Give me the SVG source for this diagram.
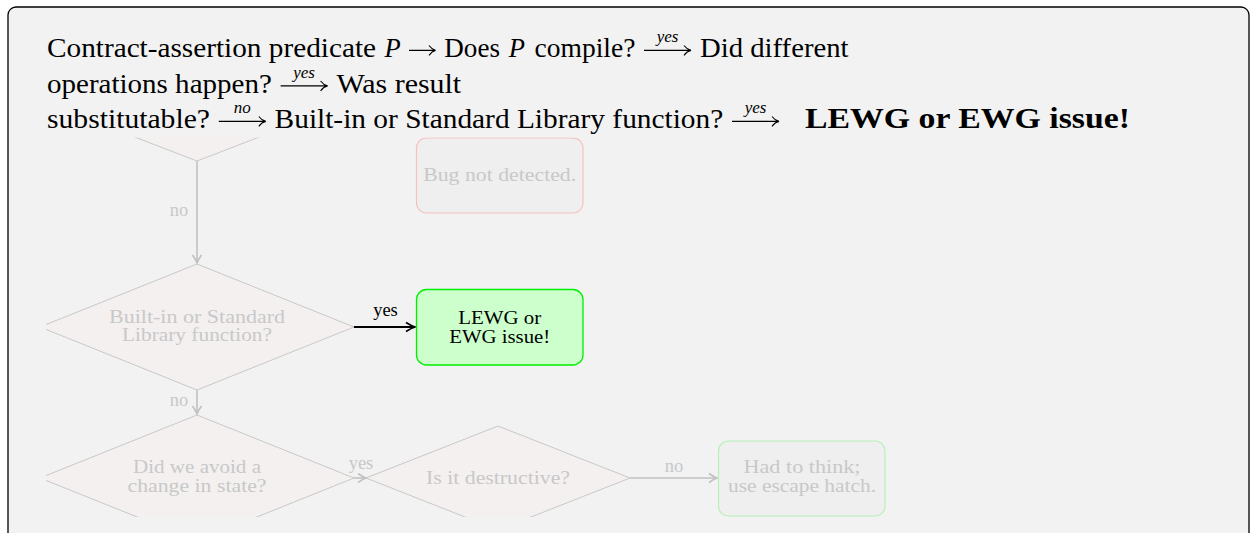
<svg xmlns="http://www.w3.org/2000/svg" width="1250" height="533" viewBox="0 0 1250 533">
<style>
  .t { font-family: "Liberation Serif", "Times New Roman", serif; fill: #000; }
  .m { font-family: "Liberation Serif", "Times New Roman", serif; font-style: italic; fill: #000; }
  .lbl { font-family: "Liberation Serif", serif; font-style: italic; font-size: 17px; fill: #000; text-anchor: middle; }
  .g { font-family: "Liberation Serif", "Times New Roman", serif; font-size: 18.5px; fill: #c8c8c8; text-anchor: middle; }
  .dia { fill: #f4f0f0; stroke: #c8c8c8; stroke-width: 1; }
  .conn { stroke: #c0c0c0; stroke-width: 1.6; fill: none; }
  .xa { stroke: #000; stroke-width: 1.1; fill: none; }
</style>
<defs>
  <marker id="ag" markerUnits="userSpaceOnUse" markerWidth="14" markerHeight="14" refX="12" refY="7" orient="auto">
    <path d="M4,2.5 Q9,6 12,7 Q9,8 4,11.5" fill="none" stroke="#c0c0c0" stroke-width="1.6"/>
  </marker>
  <marker id="ab" markerUnits="userSpaceOnUse" markerWidth="14" markerHeight="14" refX="12" refY="7" orient="auto">
    <path d="M3,2.5 Q8.5,6 12,7 Q8.5,8 3,11.5" fill="none" stroke="#000" stroke-width="1.8"/>
  </marker>
  <clipPath id="clip">
    <rect x="46" y="137.5" width="1000" height="379.5"/>
  </clipPath>
</defs>

<rect x="8" y="7" width="1241" height="620" rx="8" fill="#f2f2f2" stroke="#000" stroke-width="1.3"/>

<g id="header">
  <text class="t" font-size="26.5" x="47" y="57" textLength="329" lengthAdjust="spacingAndGlyphs">Contract-assertion predicate</text>
  <text class="m" font-size="26.5" x="384.6" y="57">P</text>
  <path class="xa" d="M409,50.4 H434.5 M429,45.5 Q432,49.5 435.5,50.4 Q432,51.3 429,55.3"/>
  <text class="t" font-size="26.5" x="444.3" y="57" textLength="55.7" lengthAdjust="spacingAndGlyphs">Does</text>
  <text class="m" font-size="26.5" x="508.8" y="57">P</text>
  <text class="t" font-size="26.5" x="534.6" y="57" textLength="100.8" lengthAdjust="spacingAndGlyphs">compile?</text>
  <path class="xa" d="M644,50.4 H690 M684,45.5 Q687,49.5 691,50.4 Q687,51.3 684,55.3"/>
  <text class="lbl" x="667.5" y="42">yes</text>
  <text class="t" font-size="26.5" x="700" y="57" textLength="148.5" lengthAdjust="spacingAndGlyphs">Did different</text>

  <text class="t" font-size="26.5" x="47" y="92.5" textLength="224.8" lengthAdjust="spacingAndGlyphs">operations happen?</text>
  <path class="xa" d="M280.6,85.9 H326.6 M320.6,81 Q323.6,85 327.6,85.9 Q323.6,86.8 320.6,90.8"/>
  <text class="lbl" x="304" y="77.5">yes</text>
  <text class="t" font-size="26.5" x="336.4" y="92.5" textLength="124.8" lengthAdjust="spacingAndGlyphs">Was result</text>

  <text class="t" font-size="26.5" x="47" y="128" textLength="163" lengthAdjust="spacingAndGlyphs">substitutable?</text>
  <path class="xa" d="M218.8,121.4 H264.8 M258.8,116.5 Q261.8,120.5 265.8,121.4 Q261.8,122.3 258.8,126.3"/>
  <text class="lbl" x="242.3" y="113">no</text>
  <text class="t" font-size="26.5" x="274.6" y="128" textLength="448.7" lengthAdjust="spacingAndGlyphs">Built-in or Standard Library function?</text>
  <path class="xa" d="M732,121.4 H778 M772,116.5 Q775,120.5 779,121.4 Q775,122.3 772,126.3"/>
  <text class="lbl" x="755.5" y="113">yes</text>
  <text class="t" font-size="30" font-weight="bold" x="805" y="128" textLength="325" lengthAdjust="spacingAndGlyphs">LEWG or EWG issue!</text>
</g>

<g clip-path="url(#clip)">
  <g id="connectors">
    <line class="conn" x1="197" y1="161" x2="197" y2="263" marker-end="url(#ag)"/>
    <text class="g" x="179" y="216">no</text>
    <line x1="354" y1="327" x2="415" y2="327" stroke="#000" stroke-width="2" marker-end="url(#ab)"/>
    <text x="385.5" y="316" font-family="Liberation Serif, serif" font-size="18.5" text-anchor="middle" fill="#000">yes</text>
    <line class="conn" x1="197" y1="390" x2="197" y2="414" marker-end="url(#ag)"/>
    <text class="g" x="179" y="406">no</text>
    <line class="conn" x1="354" y1="478" x2="366" y2="478" marker-end="url(#ag)"/>
    <text class="g" x="361" y="469">yes</text>
    <line class="conn" x1="630" y1="478" x2="717" y2="478" marker-end="url(#ag)"/>
    <text class="g" x="674" y="472">no</text>
  </g>

  <g id="n-substitutable">
    <polygon class="dia" points="41,101 197,41 353,101 197,161"/>
  </g>

  <g id="n-bug">
    <rect x="416.5" y="138" width="166.5" height="75" rx="10" fill="#efefef" stroke="#f6c0c0" stroke-width="1.2"/>
    <text class="g" x="499.7" y="181" textLength="153" lengthAdjust="spacingAndGlyphs">Bug not detected.</text>
  </g>

  <g id="n-builtin">
    <polygon class="dia" points="40,327 197,264 354,327 197,390"/>
    <text class="g" x="197" y="323" textLength="176" lengthAdjust="spacingAndGlyphs">Built-in or Standard</text>
    <text class="g" x="197" y="341" textLength="150" lengthAdjust="spacingAndGlyphs">Library function?</text>
  </g>

  <g id="n-lewg">
    <rect x="416.5" y="289.5" width="166.5" height="75.5" rx="10" fill="#ccffcc" stroke="#00ee00" stroke-width="1.3"/>
    <text x="499.7" y="324" font-family="Liberation Serif, serif" font-size="18.5" text-anchor="middle" fill="#000" textLength="83" lengthAdjust="spacingAndGlyphs">LEWG or</text>
    <text x="499.7" y="343" font-family="Liberation Serif, serif" font-size="18.5" text-anchor="middle" fill="#000" textLength="101" lengthAdjust="spacingAndGlyphs">EWG issue!</text>
  </g>

  <g id="n-avoid">
    <polygon class="dia" points="40,478 197,415 354,478 197,541"/>
    <text class="g" x="197" y="473" textLength="128" lengthAdjust="spacingAndGlyphs">Did we avoid a</text>
    <text class="g" x="197" y="492" textLength="139" lengthAdjust="spacingAndGlyphs">change in state?</text>
  </g>

  <g id="n-destructive">
    <polygon class="dia" points="366,478 498,426 630,478 498,530"/>
    <text class="g" x="498" y="484" textLength="144" lengthAdjust="spacingAndGlyphs">Is it destructive?</text>
  </g>

  <g id="n-hatch">
    <rect x="718.5" y="441" width="166.5" height="75" rx="10" fill="#efefef" stroke="#b8f0b8" stroke-width="1.2"/>
    <text class="g" x="802" y="473" textLength="117" lengthAdjust="spacingAndGlyphs">Had to think;</text>
    <text class="g" x="802" y="492" textLength="148" lengthAdjust="spacingAndGlyphs">use escape hatch.</text>
  </g>
</g>
</svg>
